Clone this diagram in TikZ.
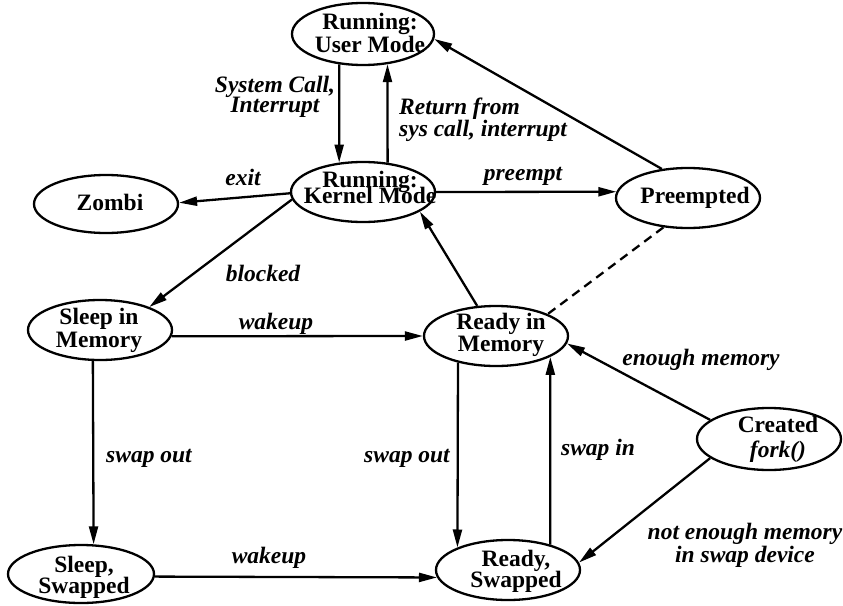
\documentclass[tikz,border=0pt]{standalone}
\usepackage{fontspec}
\setmainfont{Liberation Serif}
\usetikzlibrary{shapes.geometric,arrows.meta}
\newcommand\tightlines{\lineskiplimit=-50pt\relax}
\begin{document}
\begin{tikzpicture}[x=1pt,y=-1pt,
  st/.style={draw,ellipse,line width=2.3pt,minimum width=144pt,minimum height=60pt,inner sep=0pt},
  nm/.style={font=\fontsize{23.5}{#1}\selectfont\bfseries\tightlines,align=center,inner sep=0pt},
  nm/.default=23,
  lb/.style={font=\fontsize{23.5}{#1}\selectfont\bfseries\itshape\tightlines,align=center,inner sep=0pt},
  lb/.default=22,
  ar/.style={line width=2.3pt,-{Triangle[length=18pt,width=9pt]}},
  dsh/.style={line width=2.3pt,dash pattern=on 9pt off 6pt},
]
\useasboundingbox (0,0) rectangle (843,605);
% states
\node[st,minimum width=142pt,minimum height=62pt] (um) at (363,34) {};
\node[st] (km) at (363,192) {};
\node[st,minimum height=58pt] (zo) at (106,204) {};
\node[st] (pr) at (688,198) {};
\node[st] (sm) at (100,330) {};
\node[st] (rm) at (496,336) {};
\node[st,minimum width=146pt,minimum height=58pt] (ss) at (81,574) {};
\node[st] (rs) at (508,570) {};
\node[st,minimum height=62pt] (cr) at (769,439) {};
% state texts
\node[nm] at (370,33) {Running:\\User Mode};
\node[nm=16] at (370,187) {Running:\\Kernel Mode};
\node[nm,anchor=base] at (110,210) {Zombi};
\node[nm,anchor=base] at (695,203) {Preempted};
\node[nm] at (99,330) {Sleep in\\Memory};
\node[nm=22] at (501,335) {Ready in\\Memory};
\node[nm=21] at (84,577) {Sleep,\\Swapped};
\node[nm=21] at (516,571) {Ready,\\Swapped};
\node[nm=25] at (778,439) {Created\\{\itshape fork()}};
% transitions
\draw[ar] (um.-128) -- (km.129);
\draw[ar] (km.50) -- (um.-51);
\draw[ar] (pr.132) -- (um.-4);
\draw[ar] (km.-179) -- (zo.1);
\draw[ar] (km.0) -- (pr.175);
\draw[ar] (km.186) -- (sm.25);
\draw[ar] (rm.122) -- (km.-19);
\draw[dsh] (pr.230) -- (rm.23);
\draw[ar] (sm.-5) -- (rm.180);
\draw[ar] (sm.257) -- (ss.67);
\draw[ar] (rm.215) -- (rs.156);
\draw[ar] (rs.31) -- (rm.-21);
\draw[ar] (cr.162) -- (rm.-6);
\draw[ar] (cr.198) -- (rs.6);
\draw[ar] (ss.-2) -- (rs.186);
% labels
\node[lb=20] at (275,97) {System Call,\\Interrupt};
\node[lb,anchor=west,align=left] at (399,120) {Return from\\sys call, interrupt};
\node[lb,anchor=base] at (243,185) {exit};
\node[lb,anchor=base] at (523,180) {preempt};
\node[lb,anchor=base] at (263,281) {blocked};
\node[lb,anchor=base] at (276,329) {wakeup};
\node[lb,anchor=base] at (149,462) {swap out};
\node[lb,anchor=base] at (407,462) {swap out};
\node[lb,anchor=base] at (598,455) {swap in};
\node[lb,anchor=base] at (701,365) {enough memory};
\node[lb=23] at (745,545) {not enough memory\\in swap device};
\node[lb,anchor=base] at (269,563) {wakeup};
\end{tikzpicture}
\end{document}
